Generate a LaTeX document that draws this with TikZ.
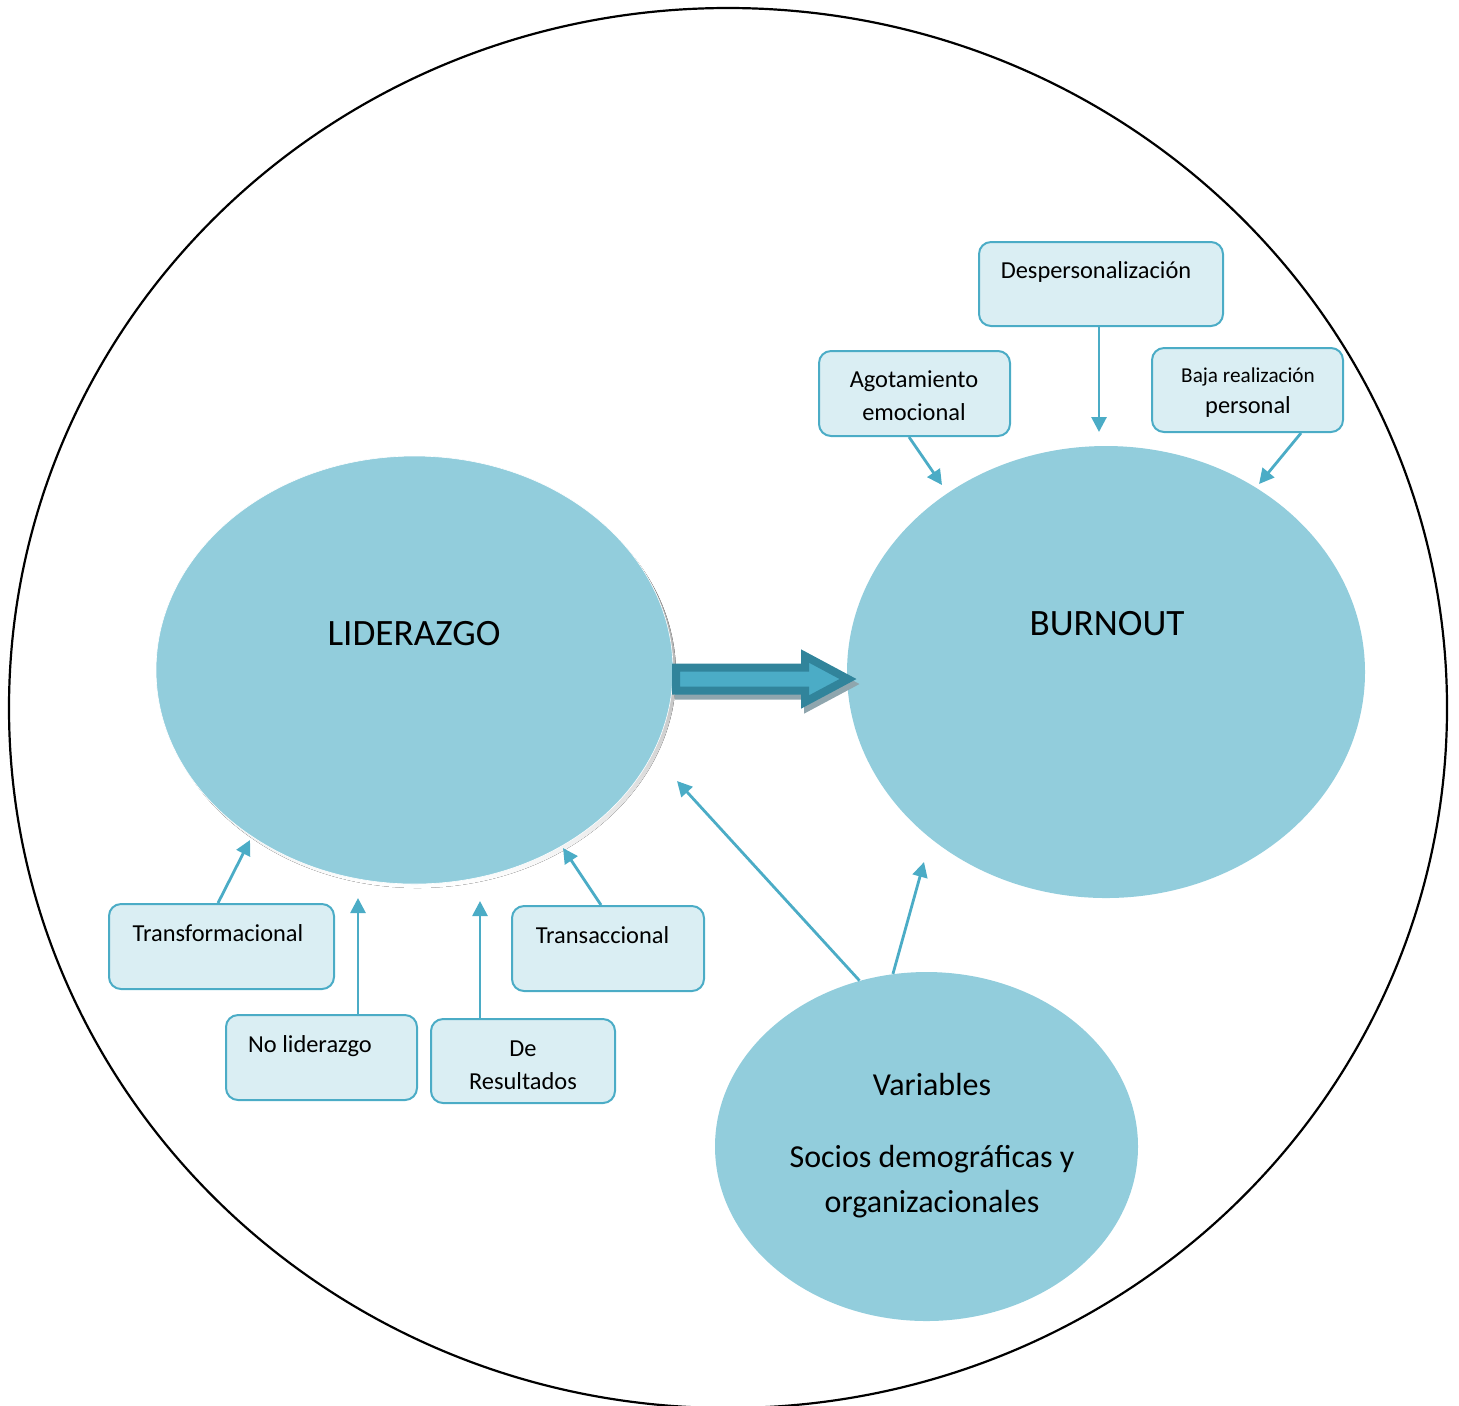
\documentclass[tikz,border=0pt]{standalone}
\usepackage{fontspec}
\setmainfont{Carlito}
\usetikzlibrary{shapes.geometric,arrows.meta,calc}

\definecolor{bubblefill}{HTML}{92CDDC}
\definecolor{accent}{HTML}{4BACC6}
\definecolor{cardfill}{HTML}{DAEEF3}
\definecolor{arrowedge}{HTML}{31849B}
\definecolor{shade}{HTML}{8FA6AE}

\begin{document}
\begin{tikzpicture}[x=0.5pt,y=-0.5pt,
  bubble/.style={ellipse, fill=bubblefill, draw=none, inner sep=0pt},
  card/.style={draw=accent, fill=cardfill, line width=1pt, rounded corners=6pt, inner sep=0pt},
  lbl/.style={anchor=base, inner sep=0pt, font=\fontsize{12.2}{14}\selectfont},
  biglbl/.style={anchor=base, inner sep=0pt, font=\fontsize{18.6}{22}\selectfont},
  varlbl/.style={anchor=base, inner sep=0pt, font=\fontsize{16}{19}\selectfont},
  conn/.style={draw=accent, line width=1.4pt, -{Triangle[length=7.5pt,width=7.5pt]}},
  fat/.style={line width=4pt, line join=miter},
]
\path[use as bounding box] (0,0) rectangle (1459,1405);

% outer frame
\begin{scope}
  \clip (0,0) rectangle (1459,1405);
  \draw[line width=1.1pt] (728,708) ellipse [x radius=359.5pt, y radius=350pt];
\end{scope}

% main bubbles
\fill[shade] (417.5,674) ellipse [x radius=129.25pt, y radius=107pt];
\node[bubble, draw=white, line width=0.3pt, minimum width=258.5pt, minimum height=214pt] (lid) at (414.5,670) {};
\node[bubble, minimum width=259pt, minimum height=226pt] (bur) at (1106,672) {};
\node[bubble, minimum width=211.5pt, minimum height=174.5pt] (var) at (926.5,1146.5) {};

\node[biglbl] (tlid) at (414,645) {LIDERAZGO};
\node[biglbl] (tbur) at (1107,635) {BURNOUT};
\node[varlbl] (tvar1) at (932,1095) {Variables};
\node[varlbl] (tvar2) at (932,1167) {Socios demográficas y};
\node[varlbl] (tvar3) at (932,1212) {organizacionales};

% thick arrow from leadership to burnout
\draw[fat, draw=shade, fill=shade] (679,672.5) -- (808,672.5) -- (808,661) -- (851,684) -- (808,707) -- (808,695.5) -- (679,695.5) -- cycle;
\draw[fat, draw=arrowedge, fill=accent] (676,667.5) -- (805,667.5) -- (805,656) -- (848,679) -- (805,702) -- (805,690.5) -- (676,690.5) -- cycle;

% dimension cards
\node[card, minimum width=122pt, minimum height=42pt] (desp) at (1101,284) {};
\node[card, minimum width=95.5pt, minimum height=42.5pt] (agot) at (914.5,393.5) {};
\node[card, minimum width=95.5pt, minimum height=42pt] (baja) at (1247.5,390) {};
\node[card, minimum width=112.5pt, minimum height=42.5pt] (trf) at (221.5,946.5) {};
\node[card, minimum width=95.5pt, minimum height=42.5pt] (noli) at (321.5,1057.5) {};
\node[card, minimum width=92pt, minimum height=42pt] (deres) at (523,1061) {};
\node[card, minimum width=96pt, minimum height=42.5pt] (trc) at (608,948.5) {};

\node[lbl] (tdesp) at (1096,278) {Despersonalización};
\node[lbl] (tagot1) at (914,387) {Agotamiento};
\node[lbl] (tagot2) at (914,420) {emocional};
\node[lbl, font=\fontsize{10.6}{12}\selectfont] (tbaja1) at (1248,382) {Baja realización};
\node[lbl] (tbaja2) at (1248,413) {personal};
\node[lbl] (ttrf) at (218,941) {Transformacional};
\node[lbl] (tnoli) at (310,1052) {No liderazgo};
\node[lbl] (tderes1) at (523,1056) {De};
\node[lbl] (tderes2) at (523,1089) {Resultados};
\node[lbl] (ttrc) at (602.5,943) {Transaccional};

% arrow tips
\coordinate (pTrf) at (250,840);
\coordinate (pNoli) at (358,898);
\coordinate (pDeres) at (480,901);
\coordinate (pTrc) at (563,848);
\coordinate (pDesp) at (1099,432);
\coordinate (pAgot) at (942,485);
\coordinate (pBaja) at (1259,484);
\coordinate (pVarL) at (677,781);
\coordinate (pVarB) at (924,862);

\draw[conn] ($(trf.north)+(-3.5,0)$) -- (pTrf);
\draw[conn] ($(noli.north)+(36.5,0)$) -- (pNoli);
\draw[conn] ($(deres.north)+(-43,0)$) -- (pDeres);
\draw[conn] ($(trc.north)+(-7,0)$) -- (pTrc);
\draw[conn] ($(desp.south)+(-2,0)$) -- (pDesp);
\draw[conn] ($(agot.south)+(-5.5,0)$) -- (pAgot);
\draw[conn] ($(baja.south)+(53.5,0)$) -- (pBaja);
\draw[conn] (var.112) -- (pVarL);
\draw[conn] (var.101) -- (pVarB);
\end{tikzpicture}
\end{document}
